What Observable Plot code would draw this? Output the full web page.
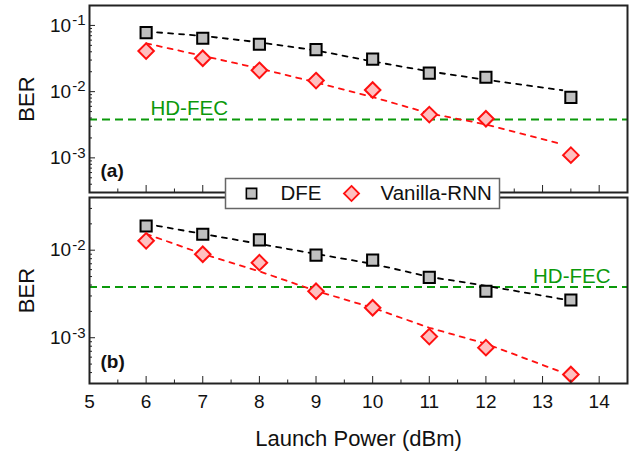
<!DOCTYPE html>
<html><head><meta charset="utf-8">
<script src="https://cdn.jsdelivr.net/npm/d3@7"></script>
<script src="https://cdn.jsdelivr.net/npm/@observablehq/plot@0.6"></script>
<style>
body{margin:0;background:#fff;font-family:"Liberation Sans",Arial,sans-serif;}
#chart{position:relative;width:639px;height:452px;overflow:hidden;background:#fff;}
#chart svg{position:absolute;overflow:visible;background:transparent;}
</style></head><body><div id="chart"></div>
<script>
// ---- data ----
const power = [6, 7, 8, 9, 10, 11, 12, 13.5];
const dfeA = [0.078, 0.064, 0.052, 0.043, 0.031, 0.019, 0.0165, 0.0082];
const rnnA = [0.041, 0.032, 0.021, 0.0147, 0.0106, 0.0045, 0.0039, 0.0011];
const dfeB = [0.0189, 0.0152, 0.0131, 0.0088, 0.0077, 0.0049, 0.0034, 0.0027];
const rnnB = [0.0128, 0.0090, 0.0072, 0.0034, 0.0022, 0.00103, 0.00077, 0.00038];
const fitPower = [6, 7, 8, 9, 10, 11, 12, 13.35];
const fitDfeA = [0.081, 0.0695, 0.0555, 0.042, 0.0286, 0.0202, 0.0151, 0.0105];
const fitRnnA = [0.0536, 0.0347, 0.0224, 0.0138, 0.0083, 0.0047, 0.0032, 0.0016];
const fitDfeB = [0.0200, 0.01535, 0.0118, 0.00907, 0.00698, 0.00496, 0.00392, 0.00276];
const fitRnnB = [0.01535, 0.00907, 0.00573, 0.00343, 0.0022, 0.0013, 0.000855, 0.000402];
const hdFec = 3.8e-3;
const fecText = "HD-FEC";
const series = ["DFE", "Vanilla-RNN"];
const xTicks = [5, 6, 7, 8, 9, 10, 11, 12, 13, 14];
const xMinor = [5.5, 6.5, 7.5, 8.5, 9.5, 10.5, 11.5, 12.5, 13.5, 14.5];
const yMajorA = [1e-3, 1e-2, 1e-1];
const yMinorA = [4e-4,5e-4,6e-4,7e-4,8e-4,9e-4,2e-3,3e-3,4e-3,5e-3,6e-3,7e-3,8e-3,9e-3,2e-2,3e-2,4e-2,5e-2,6e-2,7e-2,8e-2,9e-2,2e-1];
const yMajorB = [1e-3, 1e-2];
const yMinorB = [4e-4,5e-4,6e-4,7e-4,8e-4,9e-4,2e-3,3e-3,4e-3,5e-3,6e-3,7e-3,8e-3,9e-3,2e-2,3e-2,4e-2];
const xLabel = "Launch Power (dBm)";
const yLabel = "BER";

const GREEN = "#0b990b", RED = "#ff1010";
const FONT = "Liberation Sans, Arial, sans-serif";
const chart = document.getElementById("chart");

function supFormat(svg) {
  svg.querySelectorAll('[aria-label="y-axis tick label"] text').forEach(t => {
    const s = t.textContent;
    if (!s.includes("^")) return;
    const [b, e] = s.split("^");
    t.textContent = "";
    t.appendChild(document.createTextNode(b));
    const ts = document.createElementNS("http://www.w3.org/2000/svg", "tspan");
    ts.setAttribute("dy", "-0.42em");
    ts.setAttribute("dx", "1");
    ts.setAttribute("font-size", "15px");
    ts.textContent = e;
    t.appendChild(ts);
  });
}

function styleText(svg) {
  svg.querySelectorAll('[aria-label$="tick label"]').forEach(g => {
    const ts = g.tagName === "text" ? [g] : g.querySelectorAll("text");
    ts.forEach(t => t.setAttribute("font-size", "19px"));
  });
  svg.querySelectorAll('[aria-label="y-axis label"], [aria-label="x-axis label"]').forEach(g => {
    const ts = g.tagName === "text" ? [g] : g.querySelectorAll("text");
    ts.forEach(t => {
      t.setAttribute("font-size", "22px");
      t.textContent = t.textContent.replace(/\s*[→↑←↓]\s*/g, "").trim();
    });
  });
}

function panel(o) {
  const pts = (ys) => power.map((x, i) => ({x, y: ys[i]}));
  const fit = (ys) => fitPower.map((x, i) => ({x, y: ys[i]}));
  const svg = Plot.plot({
    width: 639, height: o.height,
    marginTop: 5, marginBottom: o.mb, marginLeft: 89, marginRight: 12,
    style: {background: "transparent", fontFamily: FONT, fontSize: "19px", color: "#111", overflow: "visible"},
    x: {domain: [5, 14.5]},
    y: {type: "log", domain: o.yDomain},
    marks: [
      Plot.ruleY([hdFec], {stroke: GREEN, strokeWidth: 2, strokeDasharray: "8,5"}),
      Plot.text([hdFec], {y: d => d, text: () => fecText, frameAnchor: o.fecAnchor, dx: o.fecDx, dy: -4,
        textAnchor: o.fecTextAnchor, lineAnchor: "bottom", fill: GREEN, fontSize: 20.5}),
      Plot.line(fit(o.fitDfe), {x: "x", y: "y", stroke: "#000", strokeWidth: 1.8, strokeDasharray: "5,6"}),
      Plot.line(fit(o.fitRnn), {x: "x", y: "y", stroke: RED, strokeWidth: 1.8, strokeDasharray: "5,6"}),
      Plot.dot(pts(o.dfe), {x: "x", y: "y", symbol: "square", r: 6.3, fill: "#c0c0c0", stroke: "#000", strokeWidth: 2}),
      Plot.dot(pts(o.rnn), {x: "x", y: "y", symbol: "diamond2", r: 7, fill: "#ffc0c0", stroke: RED, strokeWidth: 2}),
      Plot.axisY({ticks: o.yMajor, tickSize: -6, tickPadding: 10, tickFormat: d => `10^${Math.round(Math.log10(d))}`,
        label: yLabel, labelArrow: "none", labelAnchor: "center", labelOffset: 71, fontSize: 19, stroke: "#222"}),
      Plot.axisY({ticks: o.yMinor, tickSize: -3, tickFormat: () => "", label: null, stroke: "#222"}),
      Plot.axisX({ticks: xTicks, tickSize: -7, tickPadding: 18, tickFormat: o.showX ? (d => String(d)) : (() => ""),
        label: o.showX ? xLabel : null, labelArrow: "none", labelAnchor: "center", labelOffset: 62, fontSize: 19, stroke: "#222"}),
      Plot.axisX({ticks: xMinor, tickSize: -3.5, tickFormat: () => "", label: null, stroke: "#222"}),
      Plot.frame({stroke: "#222", strokeWidth: 2}),
      Plot.text([o.tag], {text: d => d, frameAnchor: "bottom-left", dx: 11, dy: -16, lineAnchor: "bottom",
        textAnchor: "start", fontWeight: "bold", fontSize: 19, fill: "#111"})
    ]
  });
  supFormat(svg);
  styleText(svg);
  svg.style.top = o.top + "px";
  svg.style.left = "0px";
  chart.appendChild(svg);
}

panel({dfe: dfeA, rnn: rnnA, fitDfe: fitDfeA, fitRnn: fitRnnA, yDomain: [3e-4, 0.2],
  yMajor: yMajorA, yMinor: yMinorA, tag: "(a)", showX: false, top: 0, height: 197, mb: 5,
  fecAnchor: "left", fecDx: 61, fecTextAnchor: "start"});
panel({dfe: dfeB, rnn: rnnB, fitDfe: fitDfeB, fitRnn: fitRnnB, yDomain: [3e-4, 0.04],
  yMajor: yMajorB, yMinor: yMinorB, tag: "(b)", showX: true, top: 192, height: 260, mb: 69,
  fecAnchor: "right", fecDx: -17, fecTextAnchor: "end"});

// legend
const legend = Plot.plot({
  width: 274, height: 30, margin: 0,
  style: {background: "transparent", fontFamily: FONT, overflow: "visible"},
  x: {type: "point", domain: series, range: [25.5, 126], padding: 0, axis: null},
  marks: [
    Plot.frame({fill: "#fff", stroke: "#666", strokeWidth: 1.5}),
    Plot.dot([series[0]], {x: d => d, symbol: "square", r: 5.8, fill: "#c0c0c0", stroke: "#000", strokeWidth: 1.6}),
    Plot.dot([series[1]], {x: d => d, symbol: "diamond2", r: 6.8, fill: "#ffc0c0", stroke: RED, strokeWidth: 1.8}),
    Plot.text(series, {x: d => d, text: d => d, dx: 29, textAnchor: "start", fontSize: 20.5, fill: "#111"})
  ]
});
legend.style.left = "225px";
legend.style.top = "178px";
chart.appendChild(legend);
</script></body></html>
